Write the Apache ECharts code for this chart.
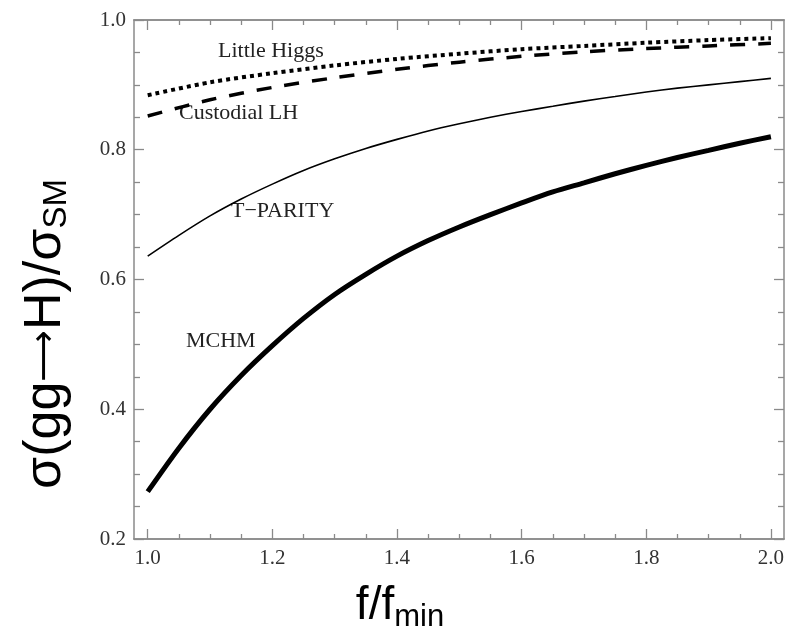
<!DOCTYPE html>
<html>
<head>
<meta charset="utf-8">
<script src="https://cdn.jsdelivr.net/npm/echarts@6/dist/echarts.min.js"></script>
<style>html,body{margin:0;padding:0;background:#fff;}#c{width:795px;height:644px;}</style>
</head>
<body>
<div id="c"></div>
<script>
// ---- data ----
const xFine = [1.00,1.05,1.10,1.15,1.20,1.25,1.30,1.35,1.40,1.45,1.50,1.55,1.60,1.65,1.70,1.75,1.80,1.85,1.90,1.95,2.00];
const mchm = [0.273,0.340,0.400,0.452,0.498,0.540,0.577,0.608,0.636,0.660,0.681,0.700,0.718,0.735,0.749,0.763,0.776,0.788,0.799,0.810,0.820];
const tParity = [0.636,0.668,0.698,0.724,0.747,0.768,0.786,0.802,0.816,0.829,0.840,0.850,0.859,0.867,0.875,0.882,0.889,0.895,0.900,0.905,0.910];
const xCoarse = [1.0,1.1,1.2,1.3,1.4,1.5,1.6,1.7,1.8,1.9,2.0];
const littleHiggs = [0.884,0.904,0.918,0.930,0.940,0.948,0.955,0.960,0.965,0.969,0.972];
const custodialLH = [0.852,0.877,0.896,0.911,0.924,0.935,0.944,0.951,0.956,0.960,0.964];
const xMajorTicks = [1.0,1.2,1.4,1.6,1.8,2.0];
const xMinorTicks = [1.05,1.1,1.15,1.25,1.3,1.35,1.45,1.5,1.55,1.65,1.7,1.75,1.85,1.9,1.95];
const yTicks = [0.2,0.4,0.6,0.8,1.0];
const curveNames = ['Little Higgs','Custodial LH','T\u2212PARITY','MCHM'];

const zip = (a, b) => a.map((v, i) => [v, b[i]]);
const frameColor = '#8a8a8a';
const serif = '"Liberation Serif","DejaVu Serif",serif';
const sans = '"Liberation Sans",Arial,sans-serif';

function xAx(pos, ticks, len, labels) {
  return {
    type: 'value', position: pos, min: 0.978, max: 2.021,
    axisLine: {show: true, onZero: false, lineStyle: {color: frameColor, width: 1.5}},
    axisTick: {show: true, inside: true, length: len, customValues: ticks, lineStyle: {color: frameColor, width: 1.3}},
    axisLabel: labels ? {show: true, customValues: xMajorTicks, formatter: v => v.toFixed(1), fontFamily: serif, fontSize: 21, color: '#333', margin: 9} : {show: false},
    splitLine: {show: false}
  };
}
function yAx(pos, labels) {
  return {
    type: 'value', position: pos, min: yTicks[0], max: yTicks[yTicks.length - 1], interval: 0.2,
    axisLine: {show: true, onZero: false, lineStyle: {color: frameColor, width: 1.5}},
    axisTick: {show: true, inside: true, length: 10, lineStyle: {color: frameColor, width: 1.3}},
    minorTick: {show: true, splitNumber: 4, length: 6, lineStyle: {color: frameColor, width: 1.3}},
    axisLabel: labels ? {show: true, formatter: v => v.toFixed(1), fontFamily: serif, fontSize: 21, color: '#333', margin: 8} : {show: false},
    splitLine: {show: false}, minorSplitLine: {show: false}
  };
}

const chart = echarts.init(document.getElementById('c'), null, {renderer: 'canvas'});
chart.setOption({
  animation: false,
  backgroundColor: '#fff',
  grid: {left: 134, right: 11, top: 20, bottom: 105, containLabel: false},
  xAxis: [xAx('bottom', xMajorTicks, 10, true), xAx('bottom', xMinorTicks, 5, false), xAx('top', xMajorTicks, 10, false), xAx('top', xMinorTicks, 5, false)],
  yAxis: [yAx('left', true), yAx('right', false)],
  series: [
    {name: curveNames[0], type: 'line', data: zip(xCoarse, littleHiggs), smooth: 0.3, symbol: 'none', lineStyle: {color: '#000', width: 4, type: [4, 4]}},
    {name: curveNames[1], type: 'line', data: zip(xCoarse, custodialLH), smooth: 0.3, symbol: 'none', lineStyle: {color: '#000', width: 3.5, type: [15, 13]}},
    {name: curveNames[2], type: 'line', data: zip(xFine, tParity), smooth: 0.3, symbol: 'none', lineStyle: {color: '#000', width: 1.6}},
    {name: curveNames[3], type: 'line', data: zip(xFine, mchm), smooth: 0.3, symbol: 'none', lineStyle: {color: '#000', width: 5}}
  ],
  graphic: [
    {type: 'text', left: 218, top: 40, style: {text: curveNames[0], font: '22px ' + serif, fill: '#222'}},
    {type: 'text', left: 179, top: 102, style: {text: curveNames[1], font: '22px ' + serif, fill: '#222'}},
    {type: 'text', left: 231, top: 200, style: {text: curveNames[2], font: '22px ' + serif, fill: '#222'}},
    {type: 'text', left: 186, top: 330, style: {text: curveNames[3], font: '22px ' + serif, fill: '#222'}},
    {type: 'text', x: 400, y: 606, style: {
      text: '{a|f/f}{b|min}', align: 'center', verticalAlign: 'middle',
      rich: {a: {fontFamily: sans, fontSize: 46, fill: '#000'}, b: {fontFamily: sans, fontSize: 31, fill: '#000', padding: [22, 0, 0, 0]}}
    }},
    {type: 'text', x: 46, y: 334, rotation: Math.PI / 2, style: {
      text: '{a|\u03c3(gg}{r|\u27f6}{a|H)/\u03c3}{b|SM}', align: 'center', verticalAlign: 'middle',
      rich: {
        a: {fontFamily: sans, fontSize: 52, fill: '#000'},
        r: {fontFamily: '"DejaVu Sans",sans-serif', fontSize: 36, fill: '#000'},
        b: {fontFamily: sans, fontSize: 33, fill: '#000', padding: [22, 0, 0, 0]}
      }
    }}
  ]
});
</script>
</body>
</html>
